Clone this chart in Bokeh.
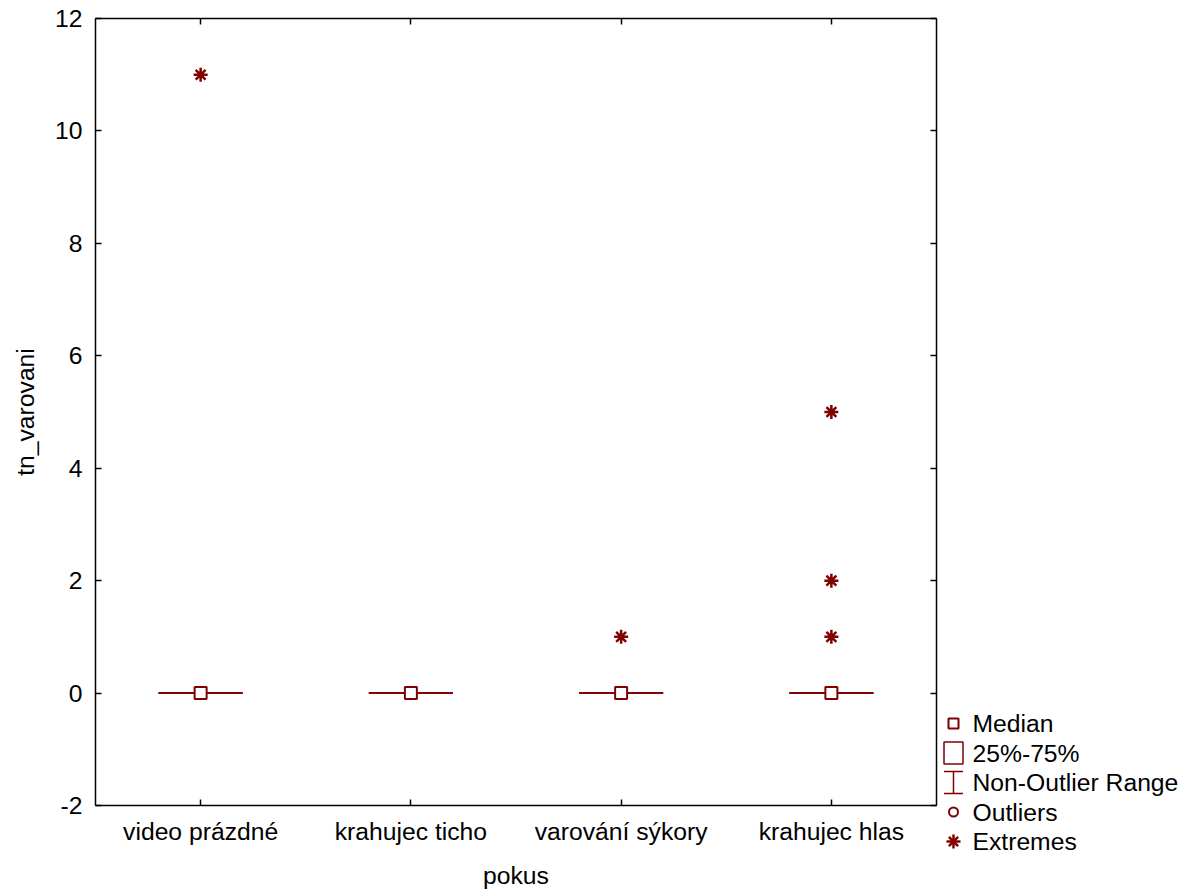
from bokeh.plotting import figure
from bokeh.models import (ColumnDataSource, Range1d, LinearAxis, FixedTicker,
                          SingleIntervalTicker, CustomJSTickFormatter)
from bokeh.core.properties import value
from bokeh.embed import file_html
from bokeh.resources import INLINE

# ---- data ----
categories = ["video prázdné", "krahujec ticho", "varování sýkory", "krahujec hlas"]
medians = [0, 0, 0, 0]
q1 = [0, 0, 0, 0]
q3 = [0, 0, 0, 0]
whisker_low = [0, 0, 0, 0]
whisker_high = [0, 0, 0, 0]
extreme_cat = ["video prázdné", "varování sýkory", "krahujec hlas", "krahujec hlas", "krahujec hlas"]
extreme_val = [11, 1, 1, 2, 5]
legend_labels = ["Median", "25%-75%", "Non-Outlier Range", "Outliers", "Extremes"]

FONT = "Liberation Sans"
RED = "#800000"
FS = "24.7px"

# frame geometry (page pixels)
FL, FT, FR, FB = 95, 18, 936, 805
W, H = 1195, 895
BOXW = 0.4

xpos = [categories.index(c) + 1 for c in categories]
src = ColumnDataSource(dict(x=xpos, xl=[v - BOXW / 2 for v in xpos], xr=[v + BOXW / 2 for v in xpos],
                            med=medians, q1=q1, q3=q3, lo=whisker_low, hi=whisker_high))
ext_x = [categories.index(c) + 1 for c in extreme_cat]

p = figure(x_range=Range1d(0.5, len(categories) + 0.5), y_range=Range1d(-2, 12),
           width=W, height=H, output_backend="svg", toolbar_location=None,
           min_border_left=FL, min_border_right=W - FR, min_border_top=FT, min_border_bottom=H - FB)
p.grid.visible = False
p.outline_line_color = "black"
p.outline_line_width = 1.5
p.background_fill_color = "white"
p.border_fill_color = "white"

for ax in [p.xaxis[0], p.yaxis[0]]:
    ax.axis_line_color = None
    ax.major_tick_in = 6
    ax.major_tick_out = 0
    ax.minor_tick_in = 0
    ax.minor_tick_out = 0
    ax.major_tick_line_color = "black"
    ax.major_tick_line_width = 1.5
    ax.major_label_text_font = FONT
    ax.major_label_text_font_size = FS
    ax.major_label_text_color = "black"
    ax.axis_label_text_font = FONT
    ax.axis_label_text_font_size = FS
    ax.axis_label_text_font_style = "normal"
    ax.axis_label_text_color = "black"
    ax.major_label_standoff = 13
    ax.axis_label_standoff = 13

p.xaxis[0].ticker = FixedTicker(ticks=xpos)
p.xaxis[0].major_label_overrides = {x: c for x, c in zip(xpos, categories)}
p.xaxis[0].major_label_standoff = 12
p.xaxis[0].axis_label_standoff = 14
p.yaxis[0].ticker = SingleIntervalTicker(interval=2)
p.yaxis[0].major_label_overrides = {-2: "-2"}
p.yaxis[0].axis_label = "tn_varovani"
p.xaxis[0].axis_label = "pokus"

right = LinearAxis(ticker=SingleIntervalTicker(interval=2),
                   formatter=CustomJSTickFormatter(code="return ''"))
top = LinearAxis(ticker=FixedTicker(ticks=xpos),
                 formatter=CustomJSTickFormatter(code="return ''"))
for ax in [right, top]:
    ax.axis_line_color = None
    ax.major_tick_in = 6
    ax.major_tick_out = 0
    ax.minor_tick_in = 0
    ax.minor_tick_out = 0
    ax.major_tick_line_color = "black"
    ax.major_tick_line_width = 1.5
    ax.major_label_standoff = 0
    ax.major_label_text_font_size = "1px"
p.add_layout(right, "right")
p.add_layout(top, "above")

# boxes & whiskers
p.segment(x0="x", y0="lo", x1="x", y1="hi", source=src, line_color=RED, line_width=1.5)
p.segment(x0="xl", y0="lo", x1="xr", y1="lo", source=src, line_color=RED, line_width=1.5)
p.segment(x0="xl", y0="hi", x1="xr", y1="hi", source=src, line_color=RED, line_width=1.5)
p.vbar(x="x", width=BOXW, bottom="q1", top="q3", source=src,
       fill_color="white", line_color=RED, line_width=1.5)
p.scatter(x="x", y="med", source=src, marker="square", size=12,
          fill_color="white", line_color=RED, line_width=2)
p.scatter(x=ext_x, y=extreme_val, marker="asterisk", size=14,
          line_color=RED, line_width=2.5)

# ---- legend (outside the frame, pixel-mapped extra ranges) ----
p.extra_x_ranges = {"px": Range1d(FL, FR)}
p.extra_y_ranges = {"py": Range1d(FB, FT)}
kw = dict(x_range_name="px", y_range_name="py", level="overlay")

y0, dy, mx, tx = 723, 29.5, 953, 972
ys = [y0 + i * dy for i in range(len(legend_labels))]
# median symbol
p.rect(x=[mx], y=[ys[0]], width=10, height=10, fill_color="white", line_color=RED,
       line_width=2, **kw)
# 25%-75% symbol
p.rect(x=[mx], y=[ys[1]], width=19, height=22, fill_color="white", line_color=RED,
       line_width=1.5, **kw)
# non-outlier range symbol
p.segment(x0=[mx, mx - 9.5, mx - 9.5], y0=[ys[2] - 11, ys[2] - 11, ys[2] + 11],
          x1=[mx, mx + 9.5, mx + 9.5], y1=[ys[2] + 11, ys[2] - 11, ys[2] + 11],
          line_color=RED, line_width=1.5, **kw)
# outliers symbol
p.ellipse(x=[mx], y=[ys[3]], width=9, height=9, fill_color="white", line_color=RED,
          line_width=2, **kw)
# extremes symbol (asterisk)
r, r2 = 7, 4.6
ey = ys[4]
p.segment(x0=[mx, mx - r, mx - r2, mx - r2], y0=[ey - r, ey, ey - r2, ey + r2],
          x1=[mx, mx + r, mx + r2, mx + r2], y1=[ey + r, ey, ey + r2, ey - r2],
          line_color=RED, line_width=2.5, **kw)
p.text(x=[tx] * len(legend_labels), y=ys, text=legend_labels, text_font=value(FONT),
       text_font_size=FS, text_baseline="middle", text_align="left", text_color="black", **kw)

open("out.html", "w").write(file_html(p, INLINE))
